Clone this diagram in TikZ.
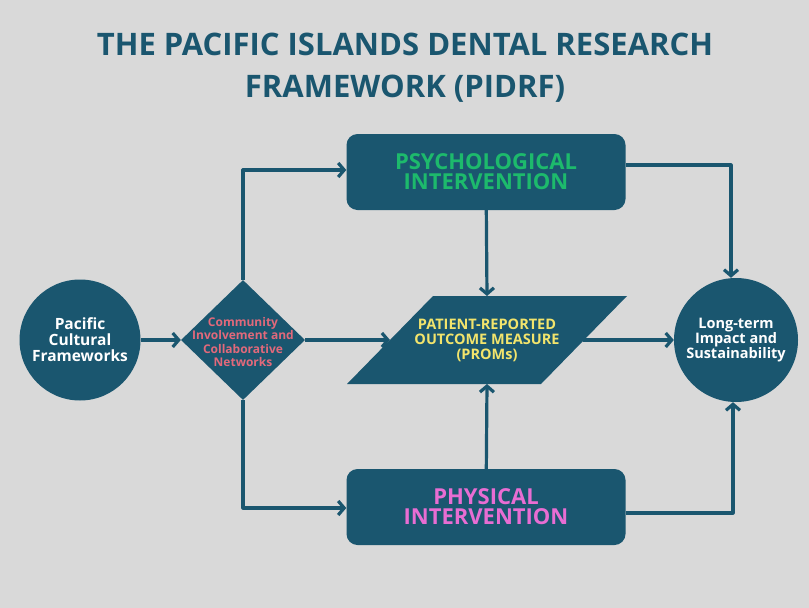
\documentclass[tikz,border=0pt]{standalone}
\usepackage{fontspec}
\setmainfont{Open Sans}
\usetikzlibrary{%
  arrows.meta,shapes.geometric}
\definecolor{bgray}{HTML}{D9D9D9}
\definecolor{deep}{HTML}{1A566F}
\definecolor{psygreen}{HTML}{1DBA6C}
\definecolor{phypink}{HTML}{E86DD3}
\definecolor{comred}{HTML}{E2697B}
\definecolor{promyel}{HTML}{F2E46C}
\tikzset {>={Straight Barb[length=6pt,width=14pt]}}
\tikzset{
  circ/.style={circle,fill=deep,minimum size=#1,inner sep=0pt,
    text=white,align=center,font=\bfseries\fontsize{15.5}{16}\selectfont},
  ibox/.style={rectangle,rounded corners=11pt,fill=deep,
    minimum width=279pt,minimum height=76pt,align=center,
    font=\bfseries\fontsize{22}{20}\selectfont},
  link/.style={deep,line width=3.2pt,->,line join=round}
}

\begin{document}
\begin{tikzpicture}[x=1pt,y=-1pt]
\fill[bgray] (0,0) rectangle (809,608);
\useasboundingbox (0,0) rectangle (809,608);
\node[deep,align=center,font=\bfseries\fontsize{31}{42}\selectfont] (title)
  at (405,68) {THE PACIFIC ISLANDS DENTAL RESEARCH\\FRAMEWORK (PIDRF)};
\node[circ=121pt] (pcf) at (80,340) {Pacific\\Cultural\\Frameworks};
\node[circ=124pt,font=\bfseries\fontsize{14.5}{15}\selectfont] (lti)
  at (736,340) {Long-term\\Impact and\\Sustainability};
\node[diamond,fill=deep,minimum width=124pt,minimum height=120pt,inner sep=0pt,
  label={[comred,align=center,yshift=-2pt,
    font=\bfseries\fontsize{12}{13.3}\selectfont]center:%
  Community\\Involvement and\\Collaborative\\Networks}] (cin) at (243,340) {};
\node[ibox,text=psygreen] (psy) at (486,172) {PSYCHOLOGICAL\\INTERVENTION};
\node[ibox,text=phypink] (phy) at (486,507) {PHYSICAL\\INTERVENTION};
\fill[deep] (347,384) -- (433,296) -- (627,296) -- (541,384) -- cycle;
\node[promyel,align=center,font=\bfseries\fontsize{14.5}{15}\selectfont] (prom)
  at (487,340) {PATIENT-REPORTED\\OUTCOME MEASURE\\(PROMs)};
\coordinate (promw) at (390,340);
\coordinate (prome) at (583,340);
\coordinate (promn) at (487,296);
\coordinate (proms) at (487,384);
\draw[link] (pcf) -- (cin);
\draw[link] (cin.north) |- (psy.west |- 0,170);
\draw[link] (cin.south) |- (phy.west |- 0,508);
\draw[link] (cin.east) -- (promw);
\draw[link] (psy) -- (promn);
\draw[link] (phy) -- (proms);
\draw[link] (prome) -- (lti);
\draw[link] (psy.east |- 0,165) -| (lti.north -| 731,0);
\draw[link] (phy.east |- 0,513) -| (lti.south -| 733,0);
\end{tikzpicture}
\end{document}
